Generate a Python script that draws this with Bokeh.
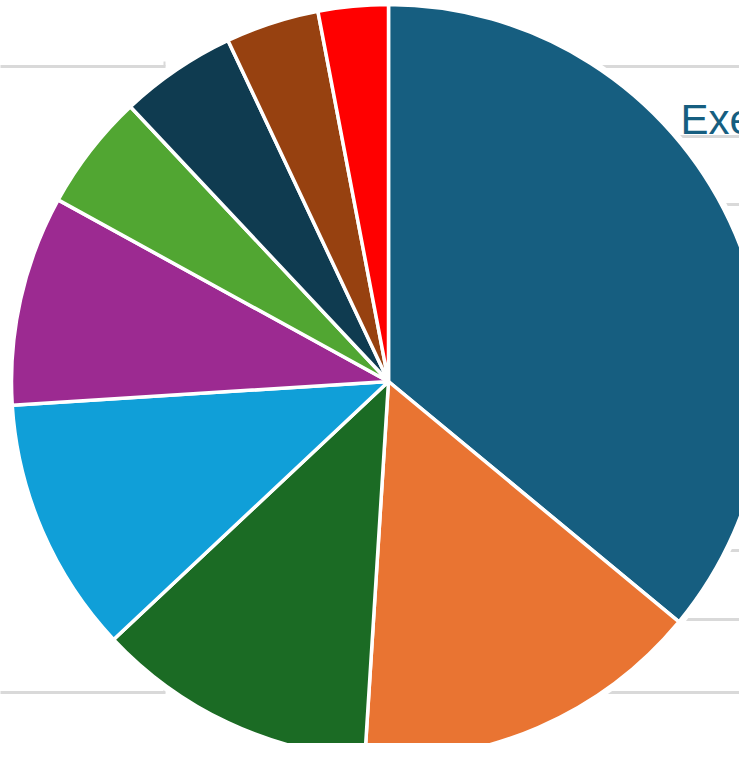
import math
from bokeh.plotting import figure
from bokeh.models import Range1d, ColumnDataSource
from bokeh.embed import file_html
from bokeh.resources import INLINE
from bokeh.core.properties import value

# ---- data ----
categories = ["Executive", "Category B", "Category C", "Category D", "Category E",
              "Category F", "Category G", "Category H", "Category I"]
shares = [36, 15, 12, 11, 9, 5, 5, 4, 3]
colors = ["#165e80", "#e97432", "#1b6b24", "#109fd8", "#9c2a91",
          "#51a632", "#0f3b50", "#974110", "#ff0000"]
label_text = ["Exec"]

# ---- layout (screen px) ----
W, H = 739, 743
CX, CY, R = 388, 381, 377

def sx(x):
    return x - CX

def sy(y):
    return CY - y

p = figure(width=W, height=H, output_backend="svg", toolbar_location=None,
           x_range=Range1d(sx(0), sx(W)), y_range=Range1d(sy(H), sy(0)),
           min_border=0)
p.axis.visible = False
p.grid.visible = False
p.outline_line_color = None
p.background_fill_color = "white"
p.border_fill_color = "white"

# background grey rules
grey = "#d9d9d9"
right_rows = [66, 136, 204, 550, 619, 692]
p.segment(x0=[sx(CX)] * len(right_rows), x1=[sx(770)] * len(right_rows),
          y0=[sy(v) for v in right_rows], y1=[sy(v) for v in right_rows],
          line_color=grey, line_width=3)
left_rows = [66, 692]
p.segment(x0=[sx(-5)] * 2, x1=[sx(165)] * 2,
          y0=[sy(v) for v in left_rows], y1=[sy(v) for v in left_rows],
          line_color=grey, line_width=3)
p.segment(x0=[sx(164)] * 2, x1=[sx(164)] * 2,
          y0=[sy(v) for v in left_rows], y1=[sy(v - 5) for v in left_rows],
          line_color=grey, line_width=2)

# white halo around pie
p.circle(x=[0], y=[0], radius=R + 5, fill_color="white", line_color=None)

# pie
total = sum(shares)
starts, ends = [], []
acc = 0.0
for s in shares:
    a0 = math.pi / 2 - acc / total * 2 * math.pi
    acc += s
    a1 = math.pi / 2 - acc / total * 2 * math.pi
    starts.append(a0)
    ends.append(a1)
src = ColumnDataSource(dict(start=starts, end=ends, color=colors, cat=categories))
p.wedge(x=0, y=0, radius=R, start_angle="start", end_angle="end", direction="clock",
        fill_color="color", line_color="white", line_width=3.5, source=src)

# label
p.text(x=[sx(680)], y=[sy(119)], text=label_text, text_font=value("Liberation Sans"),
       text_font_size="42px", text_color="#165e80", text_baseline="alphabetic")

open("out.html", "w").write(file_html(p, INLINE))
